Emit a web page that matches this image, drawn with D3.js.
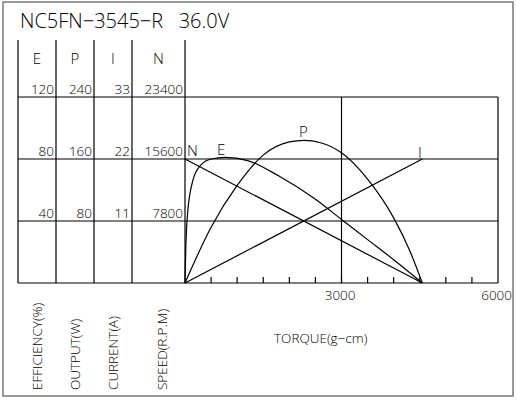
<!DOCTYPE html>
<html><head><meta charset="utf-8">
<script src="https://cdn.jsdelivr.net/npm/d3@7"></script>
<style>body{margin:0;background:#fff}text{font-family:"Open Sans","DejaVu Sans",sans-serif;font-weight:300;fill:#000;white-space:pre}</style>
</head><body><svg id="c" width="516" height="400"></svg>
<script>
var title = 'NC5FN\u22123545\u2212R   36.0V';
var columns = ['E', 'P', 'I', 'N'];
var columnTicks = [
  ['120', '80', '40'],
  ['240', '160', '80'],
  ['33', '22', '11'],
  ['23400', '15600', '7800']
];
var axisNames = ['EFFICIENCY(%)', 'OUTPUT(W)', 'CURRENT(A)', 'SPEED(R.P.M)'];
var speedData = [[0, 15600], [4550, 0]];
var currentData = [[0, 0], [4550, 22]];
var outputData = [[0, 0], [500, 72], [1000, 126], [1500, 165], [2000, 182], [2280, 184], [2600, 181], [3000, 168], [3500, 134], [4000, 84], [4300, 43], [4550, 0]];
var effData = [[0, 0], [15, 22], [50, 45], [150, 66], [300, 76], [500, 80], [770, 81], [1200, 79], [1800, 69], [2500, 54], [3000, 41], [3500, 28], [4000, 15], [4550, 0]];

var svg = d3.select('#c');
var L = 185, R = 498, T = 97, B = 283;
var colX = [18, 56, 94, 132, 185];

var x = d3.scaleLinear().domain([0, 6000]).range([L, R]);
var yE = d3.scaleLinear().domain([0, 120]).range([B, T]);
var yP = d3.scaleLinear().domain([0, 240]).range([B, T]);
var yI = d3.scaleLinear().domain([0, 33]).range([B, T]);
var yN = d3.scaleLinear().domain([0, 23400]).range([B, T]);

function line(a, b, c, d, col) {
  svg.append('line').attr('x1', a).attr('y1', b).attr('x2', c).attr('y2', d)
    .attr('stroke', col || '#000').attr('stroke-width', 1.2);
}

// border
svg.append('rect').attr('x', 3).attr('y', 2).attr('width', 510).attr('height', 394)
  .attr('fill', 'none').attr('stroke', '#777').attr('stroke-width', 1.5);

svg.append('text').attr('x', 20).attr('y', 28).attr('font-size', 20).attr('xml:space', 'preserve').text(title);

// table columns
colX.forEach(function(cx) { line(cx, 40, cx, B); });
line(R, T, R, B);
[120, 80, 40, 0].forEach(function(v) { line(colX[0], yE(v), R, yE(v)); });
line(x(3000), T, x(3000), B);

columns.forEach(function(c, i) {
  var mid = (colX[i] + colX[i + 1]) / 2;
  svg.append('text').attr('x', mid).attr('y', 64).attr('text-anchor', 'middle')
    .attr('font-size', 15).text(c);
  columnTicks[i].forEach(function(t, j) {
    svg.append('text').attr('x', colX[i + 1] - 2).attr('y', yE([120, 80, 40][j]) - 3)
      .attr('text-anchor', 'end').attr('font-size', 13.5).text(t);
  });
  svg.append('text')
    .attr('transform', 'translate(' + (colX[i] + 24 + (i == 3 ? 11 : 0)) + ',390) rotate(-90)')
    .attr('font-size', 13.5).text(axisNames[i]);
});

// x ticks
d3.range(500, 6000, 500).forEach(function(t) { line(x(t), B, x(t), B - 6); });
[3000, 6000].forEach(function(t) {
  svg.append('text').attr('x', x(t) + 14).attr('y', 300).attr('text-anchor', 'end')
    .attr('font-size', 13.5).text(t);
});
svg.append('text').attr('x', 274).attr('y', 343).attr('font-size', 13.5).text('TORQUE(g\u2212cm)');

function curve(data, y, c) {
  svg.append('path').datum(data)
    .attr('d', d3.line().x(function(d) { return x(d[0]); }).y(function(d) { return y(d[1]); }).curve(c || d3.curveLinear))
    .attr('fill', 'none').attr('stroke', '#000').attr('stroke-width', 1.2);
}
curve(speedData, yN);
curve(currentData, yI);
curve(outputData, yP, d3.curveMonotoneX);
curve(effData, yE, d3.curveMonotoneX);

svg.append('text').attr('x', 187).attr('y', 156).attr('font-size', 15).text('N');
svg.append('text').attr('x', 217).attr('y', 155).attr('font-size', 15).text('E');
svg.append('text').attr('x', 299).attr('y', 137).attr('font-size', 15).text('P');
svg.append('text').attr('x', 418).attr('y', 158).attr('font-size', 15).text('I');
</script></body></html>
